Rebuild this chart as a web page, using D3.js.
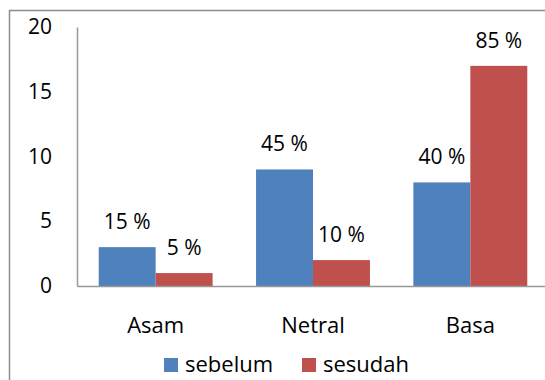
<!DOCTYPE html>
<html lang="en">
<head>
<meta charset="utf-8">
<title>sebelum / sesudah</title>
<script src="https://cdnjs.cloudflare.com/ajax/libs/d3/7.8.5/d3.min.js"></script>
<style>
	body { margin: 0; background: #fff; }
	svg { display: block; font-family: "Open Sans", sans-serif; }
</style>
</head>
<body>
<svg id="chart" width="545" height="380"></svg>
<script>
// data
var categories = ['Asam', 'Netral', 'Basa'];
var series = ['sebelum', 'sesudah'];
var sebelum = [3, 9, 8];
var sesudah = [1, 2, 17];
var labelsSebelum = ['15 %', '45 %', '40 %'];
var labelsSesudah = ['5 %', '10 %', '85 %'];
var yTicks = [0, 5, 10, 15, 20];
var colors = ['#4F81BD', '#C0504D'];

var svg = d3.select('#chart');

// outer frame (runs off right and bottom edges)
svg.append('rect')
	.attr('x', 9.5).attr('y', 10.5)
	.attr('width', 560).attr('height', 400)
	.attr('fill', 'none')
	.attr('stroke', '#8c8c8c')
	.attr('stroke-width', 1.5);

var plotL = 77, plotR = 549, plotT = 27, plotB = 286;

var x = d3.scaleBand()
	.domain(categories)
	.range([plotL, plotR])
	.paddingInner(0.276)
	.paddingOuter(0.138);

var xs = d3.scaleBand()
	.domain(series)
	.range([0, x.bandwidth()]);

var y = d3.scaleLinear()
	.domain([0, 20])
	.range([plotB, plotT]);

var rows = categories.map(function(c, i) {
	return {cat: c, vals: [
		{s: 'sebelum', v: sebelum[i], label: labelsSebelum[i], color: colors[0]},
		{s: 'sesudah', v: sesudah[i], label: labelsSesudah[i], color: colors[1]}
	]};
});

// y axis
var yAxis = svg.append('g')
	.attr('transform', 'translate(' + plotL + ',0)')
	.call(d3.axisLeft(y).tickValues(yTicks).tickSize(0).tickPadding(25));
yAxis.select('.domain').attr('stroke', '#999').attr('stroke-width', 1.5);
yAxis.selectAll('text')
	.attr('font-family', '"Open Sans", sans-serif')
	.attr('font-size', 21)
	.attr('fill', '#000');

var groups = svg.selectAll('g.cat')
	.data(rows)
	.enter().append('g')
	.attr('class', 'cat')
	.attr('transform', function(d) { return 'translate(' + x(d.cat) + ',0)'; });

groups.selectAll('rect')
	.data(function(d) { return d.vals; })
	.enter().append('rect')
	.attr('x', function(d) { return xs(d.s); })
	.attr('y', function(d) { return y(d.v); })
	.attr('width', xs.bandwidth())
	.attr('height', function(d) { return y(0) - y(d.v); })
	.attr('fill', function(d) { return d.color; });

groups.selectAll('text.lbl')
	.data(function(d) { return d.vals; })
	.enter().append('text')
	.attr('class', 'lbl')
	.attr('x', function(d) { return xs(d.s) + xs.bandwidth() / 2; })
	.attr('y', function(d) { return y(d.v) - 18; })
	.attr('text-anchor', 'middle')
	.attr('font-size', 21)
	.text(function(d) { return d.label; });

// x axis (baseline only)
var xAxis = svg.append('g')
	.attr('transform', 'translate(0,' + plotB + ')')
	.call(d3.axisBottom(x).tickSize(0).tickPadding(31));
xAxis.select('.domain').attr('stroke', '#999').attr('stroke-width', 1.5);
xAxis.selectAll('text')
	.attr('font-family', '"Open Sans", sans-serif')
	.attr('font-size', 22)
	.attr('fill', '#000');

// legend
var legendX = [164, 302];
var legend = svg.selectAll('g.legend')
	.data(series)
	.enter().append('g')
	.attr('class', 'legend')
	.attr('transform', function(d, i) { return 'translate(' + legendX[i] + ',358)'; });
legend.append('rect')
	.attr('width', 14).attr('height', 14)
	.attr('fill', function(d, i) { return colors[i]; });
legend.append('text')
	.attr('x', 21).attr('y', 14)
	.attr('font-size', 22)
	.text(function(d) { return d; });
</script>
</body>
</html>
